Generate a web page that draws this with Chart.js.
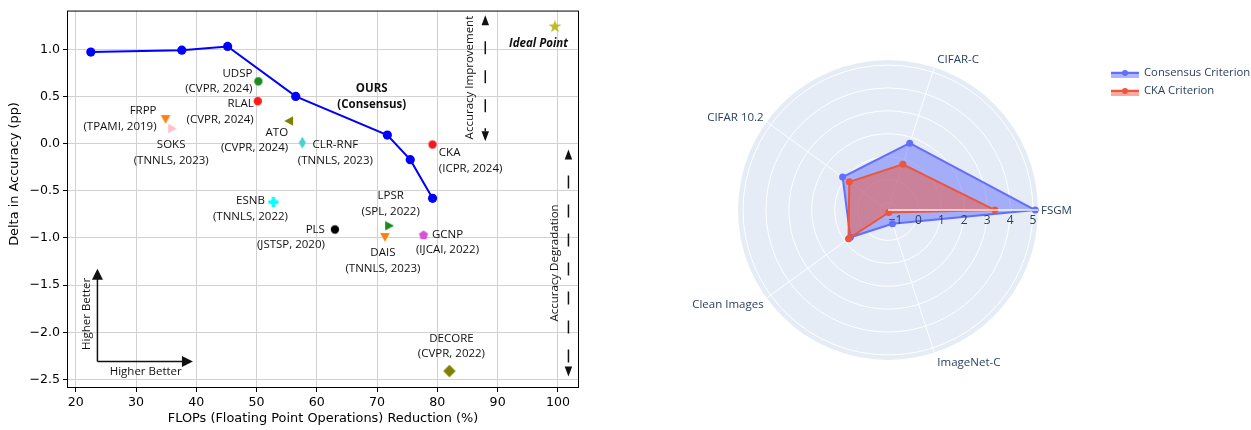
<!DOCTYPE html>
<html>
<head>
<meta charset="utf-8">
<script src="https://cdn.jsdelivr.net/npm/chart.js@4.4.1/dist/chart.umd.min.js"></script>
<style>
html, body { margin: 0; padding: 0; background: #fff; }
#wrap { position: relative; width: 1251px; height: 430px; }
#left { position: absolute; left: 0; top: 0; width: 600px; height: 430px; }
#right { position: absolute; left: 600px; top: 0; width: 651px; height: 430px; }
</style>
</head>
<body>
<div id="wrap">
  <canvas id="left" width="600" height="430"></canvas>
  <canvas id="right" width="651" height="430"></canvas>
</div>
<script>
// ---- left panel data ----
const xTicks = [20, 30, 40, 50, 60, 70, 80, 90, 100];
const yTicks = [-2.5, -2.0, -1.5, -1.0, -0.5, 0.0, 0.5, 1.0];

const oursFlops = [22.5, 37.6, 45.2, 56.5, 71.7, 75.5, 79.2];
const oursAcc = [0.97, 0.99, 1.03, 0.50, 0.09, -0.17, -0.58];

const methodNames = ['UDSP', 'RLAL', 'FRPP', 'SOKS', 'ATO', 'CLR-RNF', 'ESNB', 'PLS', 'LPSR', 'DAIS', 'GCNP', 'CKA', 'DECORE'];
const methodVenues = ['(CVPR, 2024)', '(CVPR, 2024)', '(TPAMI, 2019)', '(TNNLS, 2023)', '(CVPR, 2024)', '(TNNLS, 2023)',
  '(TNNLS, 2022)', '(JSTSP, 2020)', '(SPL, 2022)', '(TNNLS, 2023)', '(IJCAI, 2022)', '(ICPR, 2024)', '(CVPR, 2022)'];
const methodFlops = [50.3, 50.2, 34.9, 36.0, 55.4, 57.6, 52.8, 63.0, 72.0, 71.3, 77.7, 79.2, 82.0];
const methodAcc = [0.66, 0.45, 0.26, 0.16, 0.24, 0.01, -0.62, -0.91, -0.87, -0.99, -0.97, -0.01, -2.41];

const idealFlops = [99.5];
const idealAcc = [1.24];

// ---- right panel data ----
const radarCategories = ['FSGM', 'CIFAR-C', 'CIFAR 10.2', 'Clean Images', 'ImageNet-C'];
const consensusValues = [5.1, 1.74, 1.12, 0.70, -0.70];
const ckaValues = [3.34, 0.77, 0.76, 0.80, -1.22];
const radialTicks = [-1, 0, 1, 2, 3, 4, 5];

// marker look + label placement (pixels relative to the marker)
const methodStyle = {
  'UDSP':    { shape: 'o', color: '#1a8a1a', dx: -6,  dy: -8,   align: 'right' },
  'RLAL':    { shape: 'o', color: '#ff1a1a', dx: -4,  dy: 3,    align: 'right' },
  'FRPP':    { shape: 'v', color: '#ff7f0e', dx: -9,  dy: -8,   align: 'right' },
  'SOKS':    { shape: '>', color: '#ffc0cb', dx: -1,  dy: 16.5, align: 'center' },
  'ATO':     { shape: '<', color: '#808000', dx: -1,  dy: 11.5, align: 'right' },
  'CLR-RNF': { shape: 'd', color: '#48d1cc', dx: 33,  dy: 2.5,  align: 'center' },
  'ESNB':    { shape: 'P', color: '#00ffff', dx: -23, dy: -1.3, align: 'center' },
  'PLS':     { shape: 'o', color: '#000000', dx: -10, dy: 0,    align: 'right' },
  'LPSR':    { shape: '>', color: '#1a8a1a', dx: 1.5, dy: -30,  align: 'center' },
  'DAIS':    { shape: 'v', color: '#ff7f0e', dx: -2,  dy: 16,   align: 'center' },
  'GCNP':    { shape: 'p', color: '#d84fd8', dx: 24,  dy: -0.7, align: 'center' },
  'CKA':     { shape: 'o', color: '#ee1c1c', dx: 6.3, dy: 8.4,  align: 'left' },
  'DECORE':  { shape: 'D', color: '#808000', dx: 2,   dy: -32.7, align: 'center' }
};

// annotation anchors, in data units of the left axes
const annot = {
  improveArrow: { x: 87.95, top: 1.36, bottom: 0.025 },
  improveText: { x: 85.45, y: 0.70 },
  degradeArrow: { x: 101.75, top: -0.062, bottom: -2.469 },
  degradeText: { x: 99.55, y: -1.265 },
  higher: { x: 23.6, y: -2.31, upTo: -1.327, rightTo: 39.45 }
};

function markerImg(shape, color) {
  const c = document.createElement('canvas');
  c.width = 16; c.height = 16;
  const g = c.getContext('2d');
  g.translate(8, 8);
  g.fillStyle = color;
  g.beginPath();
  const poly = pts => { g.moveTo(pts[0][0], pts[0][1]); pts.slice(1).forEach(p => g.lineTo(p[0], p[1])); g.closePath(); };
  if (shape === 'o') g.arc(0, 0, 4.2, 0, Math.PI * 2);
  else if (shape === 'v') poly([[-4.8, -4], [4.8, -4], [0, 4.8]]);
  else if (shape === '>') poly([[-4, -4.8], [-4, 4.8], [4.8, 0]]);
  else if (shape === '<') poly([[4, -4.8], [4, 4.8], [-4.8, 0]]);
  else if (shape === 'd') poly([[0, -6], [3.6, 0], [0, 6], [-3.6, 0]]);
  else if (shape === 'D') poly([[0, -6.2], [6.2, 0], [0, 6.2], [-6.2, 0]]);
  else if (shape === 'P') poly([[-1.8, -5], [1.8, -5], [1.8, -1.8], [5, -1.8], [5, 1.8], [1.8, 1.8], [1.8, 5], [-1.8, 5], [-1.8, 1.8], [-5, 1.8], [-5, -1.8], [-1.8, -1.8]]);
  else if (shape === 'p') {
    const pts = [];
    for (let k = 0; k < 5; k++) { const a = -Math.PI / 2 + k * 2 * Math.PI / 5; pts.push([4.8 * Math.cos(a), 4.8 * Math.sin(a)]); }
    poly(pts);
  } else if (shape === '*') {
    const pts = [];
    for (let k = 0; k < 10; k++) { const a = -Math.PI / 2 + k * Math.PI / 5; const rr = k % 2 ? 2.7 : 6.8; pts.push([rr * Math.cos(a), rr * Math.sin(a)]); }
    poly(pts);
  }
  g.fill();
  return c;
}

function arrowHead(ctx, tx, ty, ux, uy, len, w) {
  ctx.beginPath();
  ctx.moveTo(tx, ty);
  ctx.lineTo(tx - ux * len - uy * w / 2, ty - uy * len + ux * w / 2);
  ctx.lineTo(tx - ux * len + uy * w / 2, ty - uy * len - ux * w / 2);
  ctx.closePath();
  ctx.fill();
}

function vText(ctx, text, x, y, font) {
  ctx.save();
  ctx.translate(x, y);
  ctx.rotate(-Math.PI / 2);
  ctx.font = font;
  ctx.textAlign = 'center';
  ctx.textBaseline = 'middle';
  ctx.fillText(text, 0, 0);
  ctx.restore();
}

const labelFont = '11.5px "Open Sans"';
const titleFont = '12.9px "DejaVu Sans"';

const leftDecor = {
  id: 'leftDecor',
  afterDraw(chart) {
    const { ctx, chartArea: a } = chart;
    const x = chart.scales.x, y = chart.scales.y;
    ctx.save();
    ctx.fillStyle = '#111';
    ctx.strokeStyle = '#111';

    // method labels
    ctx.font = labelFont;
    ctx.textBaseline = 'middle';
    methodNames.forEach((n, i) => {
      const st = methodStyle[n];
      const px = x.getPixelForValue(methodFlops[i]);
      const py = y.getPixelForValue(methodAcc[i]);
      ctx.textAlign = st.align;
      ctx.fillText(n, px + st.dx, py + st.dy);
      ctx.fillText(methodVenues[i], px + st.dx, py + st.dy + 15.6);
    });

    // OURS label near the curve
    const ox = x.getPixelForValue(oursFlops[3]) + 76;
    const oy = y.getPixelForValue(oursAcc[3]) - 7.6;
    ctx.font = 'bold ' + labelFont;
    ctx.textAlign = 'center';
    ctx.fillText('OURS', ox, oy);
    ctx.fillText('(Consensus)', ox, oy + 15.6);

    // ideal point label
    ctx.font = 'italic bold ' + labelFont;
    ctx.fillText('Ideal Point', x.getPixelForValue(idealFlops[0]) - 16.4, y.getPixelForValue(idealAcc[0]) + 17.3);

    // dashed double arrows
    ctx.lineWidth = 1.5;
    const dashArrow = ax => {
      const X = x.getPixelForValue(ax.x);
      const T = y.getPixelForValue(ax.top), B = y.getPixelForValue(ax.bottom);
      ctx.save();
      ctx.setLineDash([13, 16]);
      ctx.lineDashOffset = 13;
      ctx.beginPath();
      ctx.moveTo(X, T + 10);
      ctx.lineTo(X, B - 10);
      ctx.stroke();
      ctx.restore();
      arrowHead(ctx, X, T, 0, -1, 10, 7.5);
      arrowHead(ctx, X, B, 0, 1, 10, 7.5);
    };
    dashArrow(annot.improveArrow);
    dashArrow(annot.degradeArrow);
    vText(ctx, 'Accuracy Improvement', x.getPixelForValue(annot.improveText.x), y.getPixelForValue(annot.improveText.y), labelFont);
    vText(ctx, 'Accuracy Degradation', x.getPixelForValue(annot.degradeText.x), y.getPixelForValue(annot.degradeText.y), labelFont);

    // higher better arrows
    const hx = x.getPixelForValue(annot.higher.x), hy = y.getPixelForValue(annot.higher.y);
    const upY = y.getPixelForValue(annot.higher.upTo), rtX = x.getPixelForValue(annot.higher.rightTo);
    ctx.beginPath();
    ctx.moveTo(hx, hy); ctx.lineTo(hx, upY + 10);
    ctx.moveTo(hx, hy); ctx.lineTo(rtX - 10, hy);
    ctx.stroke();
    arrowHead(ctx, hx, upY, 0, -1, 11, 11);
    arrowHead(ctx, rtX, hy, 1, 0, 11, 11);
    vText(ctx, 'Higher Better', hx - 10.4, hy - 47.7, labelFont);
    ctx.font = labelFont;
    ctx.textAlign = 'center';
    ctx.textBaseline = 'middle';
    ctx.fillText('Higher Better', hx + 48.3, hy + 10);

    // frame
    ctx.strokeStyle = '#000';
    ctx.lineWidth = 1;
    ctx.strokeRect(a.left + 0.5, a.top + 0.5, a.right - a.left - 1, a.bottom - a.top - 1);

    // axis titles
    ctx.fillStyle = '#000';
    ctx.font = titleFont;
    ctx.textAlign = 'center';
    ctx.textBaseline = 'middle';
    ctx.fillText('FLOPs (Floating Point Operations) Reduction (%)', (a.left + a.right) / 2, 418.5);
    vText(ctx, 'Delta in Accuracy (pp)', 15, 174, titleFont);
    ctx.restore();
  }
};

const tickFont = { family: 'DejaVu Sans', size: 12.6 };

new Chart(document.getElementById('left'), {
  type: 'scatter',
  data: {
    datasets: [
      {
        data: oursFlops.map((v, i) => ({ x: v, y: oursAcc[i] })),
        showLine: true,
        borderColor: '#0000ff',
        backgroundColor: '#0000ff',
        borderWidth: 2,
        pointRadius: 4.6,
        pointBorderWidth: 0
      },
      {
        data: methodFlops.map((v, i) => ({ x: v, y: methodAcc[i] })),
        pointStyle: methodNames.map(n => markerImg(methodStyle[n].shape, methodStyle[n].color)),
        pointRadius: 5
      },
      {
        data: idealFlops.map((v, i) => ({ x: v, y: idealAcc[i] })),
        pointStyle: markerImg('*', '#bcbd22'),
        pointRadius: 5
      }
    ]
  },
  options: {
    responsive: false,
    animation: false,
    layout: { padding: { top: 8, right: 21, left: 0, bottom: 0 } },
    plugins: { legend: { display: false }, tooltip: { enabled: false } },
    scales: {
      x: {
        type: 'linear',
        min: 18.55,
        max: 103.5,
        afterBuildTicks: s => { s.ticks = xTicks.map(v => ({ value: v })); },
        afterFit: s => { s.height = 42; },
        border: { display: false },
        grid: { color: '#d2d2d2', lineWidth: 1, tickColor: '#000', tickLength: 4 },
        ticks: { font: tickFont, color: '#000', padding: 3, maxRotation: 0, autoSkip: false }
      },
      y: {
        type: 'linear',
        min: -2.59,
        max: 1.41,
        afterBuildTicks: s => { s.ticks = yTicks.map(v => ({ value: v })); },
        afterFit: s => { s.width = 67; },
        border: { display: false },
        grid: { color: '#d2d2d2', lineWidth: 1, tickColor: '#000', tickLength: 4 },
        ticks: {
          font: tickFont, color: '#000', padding: 3, autoSkip: false,
          callback: v => v.toFixed(1).replace('-', '\u2212')
        }
      }
    }
  },
  plugins: [leftDecor]
});

// ---- radar ----
// Chart.js walks clockwise, plotly went counter-clockwise from the right
const cwOrder = [0, 4, 3, 2, 1];
const blue = '#636efa', red = '#ef553b';

const radarDecor = {
  id: 'radarDecor',
  afterDatasetsDraw(chart) {
    const r = chart.scales.r;
    const ctx = chart.ctx;
    const end = r.getDistanceFromCenterForValue(r.max);
    ctx.save();
    // radial axis line drawn above the traces
    const c0 = r.getPointPosition(0, 0);
    const c1 = r.getPointPosition(0, end);
    ctx.strokeStyle = 'rgba(255,255,255,0.85)';
    ctx.lineWidth = 1.5;
    ctx.beginPath(); ctx.moveTo(c0.x, c0.y); ctx.lineTo(c1.x, c1.y); ctx.stroke();

    ctx.fillStyle = '#2a3f5f';
    ctx.font = '12px "Open Sans"';
    ctx.textAlign = 'center';
    ctx.textBaseline = 'middle';
    radialTicks.forEach(v => {
      const p = r.getPointPositionForValue(0, v);
      ctx.fillText(v < 0 ? '\u2212' + Math.abs(v) : String(v), p.x, p.y + 10.5);
    });

    ctx.font = '11.5px "Open Sans"';
    cwOrder.forEach((ci, i) => {
      const p = r.getPointPosition(i, end);
      const cs = Math.cos(p.angle), sn = Math.sin(p.angle);
      let dx = 0;
      if (cs > 0.2) { ctx.textAlign = 'left'; dx = 3; }
      else if (cs < -0.2) { ctx.textAlign = 'right'; dx = -3; }
      else ctx.textAlign = 'center';
      ctx.fillText(radarCategories[ci], p.x + dx, p.y + 9.5 * sn + 1);
    });

    // legend
    ctx.font = '11.3px "Open Sans"';
    const items = [['Consensus Criterion', blue, 'rgba(99,110,250,0.5)'], ['CKA Criterion', red, 'rgba(239,85,59,0.5)']];
    items.forEach((it, k) => {
      const yy = 73 + k * 18;
      ctx.fillStyle = it[2];
      ctx.fillRect(511, yy - 1.5, 28, 6.5);
      ctx.strokeStyle = it[1];
      ctx.lineWidth = 2;
      ctx.beginPath(); ctx.moveTo(511, yy); ctx.lineTo(539, yy); ctx.stroke();
      ctx.fillStyle = it[1];
      ctx.beginPath(); ctx.arc(525, yy, 3, 0, Math.PI * 2); ctx.fill();
      ctx.fillStyle = '#2a3f5f';
      ctx.textAlign = 'left';
      ctx.fillText(it[0], 544, yy);
    });
    ctx.restore();
  }
};

new Chart(document.getElementById('right'), {
  type: 'radar',
  data: {
    labels: cwOrder.map(i => radarCategories[i]),
    datasets: [
      {
        label: 'CKA Criterion',
        data: cwOrder.map(i => ckaValues[i]),
        borderColor: red,
        backgroundColor: 'rgba(239,85,59,0.5)',
        pointBackgroundColor: red,
        pointBorderWidth: 0,
        pointRadius: 3.5,
        borderWidth: 2,
        fill: 'start',
        order: 0
      },
      {
        label: 'Consensus Criterion',
        data: cwOrder.map(i => consensusValues[i]),
        borderColor: blue,
        backgroundColor: 'rgba(99,110,250,0.5)',
        pointBackgroundColor: blue,
        pointBorderWidth: 0,
        pointRadius: 3.5,
        borderWidth: 2,
        fill: 'start',
        order: 1
      }
    ]
  },
  options: {
    responsive: false,
    animation: false,
    layout: { padding: { top: 60, bottom: 70, left: 138, right: 213 } },
    plugins: { legend: { display: false }, tooltip: { enabled: false } },
    scales: {
      r: {
        min: -1.33,
        max: 5.22,
        startAngle: 90,
        backgroundColor: '#e5ecf6',
        grid: { circular: true, color: '#ffffff', lineWidth: 1 },
        angleLines: { color: '#ffffff', lineWidth: 1 },
        ticks: { display: false, stepSize: 1, includeBounds: false },
        pointLabels: { display: false }
      }
    }
  },
  plugins: [radarDecor]
});
</script>
</body>
</html>
